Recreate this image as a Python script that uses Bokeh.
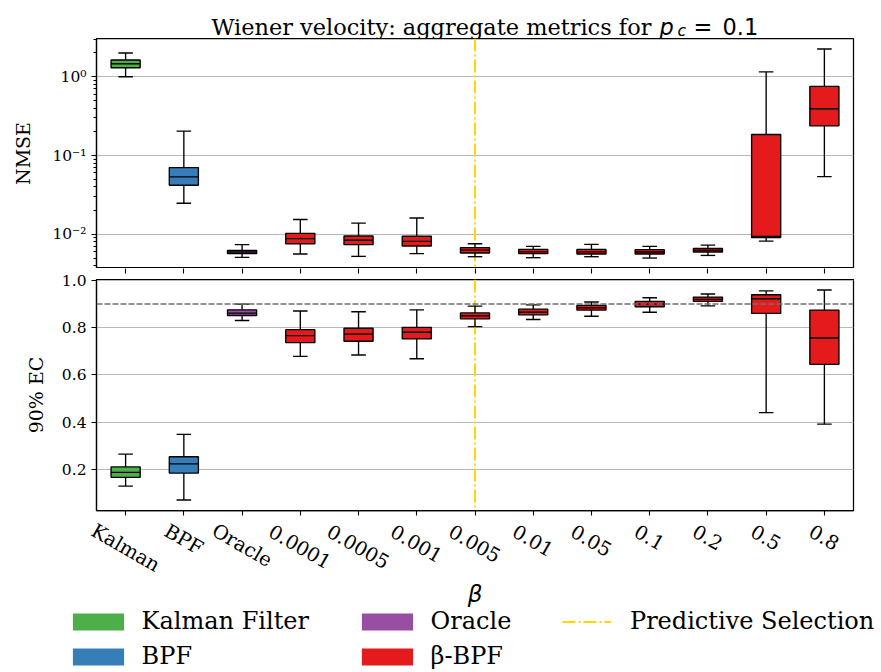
import math
from bokeh.plotting import figure
from bokeh.models import (Range1d, FixedTicker, CustomJSTickFormatter, PrintfTickFormatter,
                          Span, Legend, LegendItem, ColumnDataSource, Label, LinearAxis)
from bokeh.core.properties import value
from bokeh.layouts import column
from bokeh.embed import file_html
from bokeh.resources import INLINE

# ---------------- data ----------------
categories = ["Kalman", "BPF", "Oracle", "0.0001", "0.0005", "0.001", "0.005",
              "0.01", "0.05", "0.1", "0.2", "0.5", "0.8"]
groups = ["Kalman Filter", "BPF", "Oracle"] + ["β-BPF"] * 10
group_names = ["Kalman Filter", "BPF", "Oracle", "β-BPF"]
group_colors = ["#4daf4a", "#377eb8", "#984ea3", "#e41a1c"]
selected_beta = "0.005"
target_coverage = 0.9

# NMSE box statistics (whisker low, Q1, median, Q3, whisker high)
nmse_lo = [1.0, 0.0248, 0.0051, 0.00562, 0.00525, 0.00568, 0.0052, 0.00505, 0.0052, 0.0050, 0.0054, 0.0082, 0.054]
nmse_q1 = [1.30, 0.042, 0.00568, 0.0076, 0.0074, 0.0071, 0.0058, 0.00568, 0.00562, 0.00562, 0.00596, 0.0091, 0.238]
nmse_med = [1.46, 0.0536, 0.00596, 0.0088, 0.0084, 0.00815, 0.0063, 0.0060, 0.0060, 0.00596, 0.0063, 0.0094, 0.392]
nmse_q3 = [1.63, 0.0703, 0.00626, 0.0103, 0.00953, 0.00944, 0.00677, 0.00644, 0.00644, 0.0064, 0.00664, 0.185, 0.753]
nmse_hi = [2.0, 0.204, 0.0074, 0.0154, 0.0139, 0.0161, 0.0076, 0.00703, 0.00746, 0.00703, 0.0073, 1.15, 2.25]

# 90% empirical coverage box statistics
ec_lo = [0.129, 0.070, 0.830, 0.678, 0.684, 0.668, 0.804, 0.834, 0.848, 0.865, 0.892, 0.440, 0.391]
ec_q1 = [0.166, 0.184, 0.851, 0.736, 0.742, 0.752, 0.837, 0.854, 0.874, 0.888, 0.911, 0.860, 0.644]
ec_med = [0.187, 0.223, 0.861, 0.766, 0.772, 0.780, 0.850, 0.865, 0.884, 0.899, 0.919, 0.922, 0.756]
ec_q3 = [0.210, 0.253, 0.875, 0.791, 0.797, 0.801, 0.862, 0.878, 0.894, 0.911, 0.929, 0.939, 0.874]
ec_hi = [0.264, 0.348, 0.899, 0.870, 0.867, 0.875, 0.891, 0.896, 0.908, 0.926, 0.942, 0.955, 0.959]

ec_ticks = [0.2, 0.4, 0.6, 0.8, 1.0]
nmse_ticks = [0.01, 0.1, 1.0]

# ---------------- layout / style constants ----------------
SERIF = "DejaVu Serif"
SANS = "DejaVu Sans"
BOX_W = 0.5
CAP_W = 0.25
W = 881
LEFT, RIGHT = 96, 28
FRAME_W = W - LEFT - RIGHT
TITLE_H = 38
TOP_H = 230
BOT_H = 248
FOOT_H = 154
TICK_FS = 19.5
ROT = math.pi / 6
GOLD = "#FFD700"
GOLD_DASH = "13 3 2 3"

# approximate DejaVu Serif advance widths (em) used to align rotated labels
EM = {"0": .636, "1": .636, "2": .636, "5": .636, "8": .636, ".": .318, "K": .753, "a": .596,
      "l": .320, "m": .948, "n": .640, "B": .733, "P": .683, "F": .715, "O": .785,
      "r": .478, "c": .560, "e": .592}

n = len(categories)
xs = list(range(n))
colors = [group_colors[group_names.index(g)] for g in groups]
sel_x = categories.index(selected_beta)
x_range = Range1d(-0.5, n - 0.5)
blank = CustomJSTickFormatter(code="return ''")


def bare(p):
    p.background_fill_color = "white"
    p.border_fill_color = "white"
    p.outline_line_color = None
    p.xgrid.visible = False
    p.ygrid.visible = False


def style_axis(ax):
    ax.axis_line_color = "black"
    ax.axis_line_width = 1.25
    ax.major_tick_line_color = "black"
    ax.major_tick_line_width = 1.1
    ax.major_tick_out = 5
    ax.major_tick_in = 0
    ax.minor_tick_line_color = "black"
    ax.minor_tick_out = 3
    ax.minor_tick_in = 0
    ax.major_label_text_font = SERIF
    ax.major_label_text_font_size = "15.5px"
    ax.major_label_text_color = "black"
    ax.axis_label_text_font = SERIF
    ax.axis_label_text_font_style = "normal"
    ax.axis_label_text_font_size = "19px"
    ax.axis_label_text_color = "black"


def style(p):
    p.background_fill_color = "white"
    p.border_fill_color = "white"
    p.outline_line_color = "black"
    p.outline_line_width = 1.25
    p.outline_line_alpha = 1.0
    p.xgrid.visible = False
    p.ygrid.grid_line_color = "#b8b8b8"
    p.ygrid.grid_line_width = 1.2
    for ax in p.yaxis:
        style_axis(ax)
    for ax in p.xaxis:
        style_axis(ax)
        ax.ticker = FixedTicker(ticks=xs)
        ax.minor_tick_line_color = None
        ax.formatter = blank
        ax.major_label_standoff = 0
    p.add_layout(Span(location=sel_x, dimension="height", line_color=GOLD,
                      line_width=2, line_dash=GOLD_DASH, level="underlay"))


def draw_boxes(p, lo, q1, med, q3, hi):
    src = ColumnDataSource(dict(
        x=xs, lo=lo, q1=q1, med=med, q3=q3, hi=hi, color=colors,
        x0=[x - BOX_W / 2 for x in xs], x1=[x + BOX_W / 2 for x in xs],
        c0=[x - CAP_W / 2 for x in xs], c1=[x + CAP_W / 2 for x in xs],
    ))
    kw = dict(line_color="black", line_width=1.35, source=src)
    p.segment(x0="x", y0="q3", x1="x", y1="hi", **kw)
    p.segment(x0="x", y0="q1", x1="x", y1="lo", **kw)
    p.segment(x0="c0", y0="hi", x1="c1", y1="hi", **kw)
    p.segment(x0="c0", y0="lo", x1="c1", y1="lo", **kw)
    p.vbar(x="x", width=BOX_W, top="q3", bottom="q1", fill_color="color",
           line_color="black", line_width=1.35, source=src)
    p.segment(x0="x0", y0="med", x1="x1", y1="med", **kw)


# ---------------- title strip (full-width frame, x in page pixels) ----------------
ttl = figure(width=W, height=TITLE_H, output_backend="svg", toolbar_location=None,
             x_range=Range1d(0, W), y_range=Range1d(TITLE_H, 0),
             x_axis_location=None, y_axis_location=None, min_border=0)
bare(ttl)
base = 26
tfs = "22.45px"
ttl.text(x=[658], y=[base], text=["Wiener velocity: aggregate metrics for "],
         text_font=value(SERIF), text_font_size=tfs, text_align="right",
         text_baseline="alphabetic", text_color="black")
ttl.text(x=[659], y=[base], text=["p"], text_font=value(SANS), text_font_style="italic",
         text_font_size=tfs, text_align="left", text_baseline="alphabetic", text_color="black")
ttl.text(x=[677], y=[base + 4], text=["c"], text_font=value(SANS), text_font_style="italic",
         text_font_size="15.7px", text_align="left", text_baseline="alphabetic", text_color="black")
ttl.text(x=[693], y=[base], text=["="], text_font=value(SANS),
         text_font_size=tfs, text_align="left", text_baseline="alphabetic", text_color="black")
ttl.text(x=[722], y=[base], text=["0.1"], text_font=value(SANS),
         text_font_size=tfs, text_align="left", text_baseline="alphabetic", text_color="black")

# ---------------- top: NMSE ----------------
lmin = math.log10(min(nmse_lo))
lmax = math.log10(max(nmse_hi))
lm = 0.05 * (lmax - lmin)
top = figure(width=W, height=TOP_H, output_backend="svg", toolbar_location=None,
             y_axis_type="log", x_range=x_range, x_axis_location=None,
             y_range=Range1d(10 ** (lmin - lm), 10 ** (lmax + lm)),
             min_border_left=LEFT, min_border_right=RIGHT, min_border_top=0, min_border_bottom=0)
style(top)
minor = [k * 10.0 ** e for e in range(-4, 1) for k in range(2, 10)]
top.yaxis[0].ticker = FixedTicker(ticks=nmse_ticks, minor_ticks=minor)
top.yaxis[0].formatter = CustomJSTickFormatter(code="""
const e = Math.round(Math.log10(tick));
const sup = {'-': '\u207b', '0': '\u2070', '1': '\u00b9', '2': '\u00b2', '3': '\u00b3'};
return '10' + String(e).split('').map(c => sup[c]).join('');
""")
top.yaxis[0].axis_label = "NMSE"
top.yaxis[0].axis_label_standoff = 15
draw_boxes(top, nmse_lo, nmse_q1, nmse_med, nmse_q3, nmse_hi)

# ---------------- bottom: 90% EC ----------------
emin = min(ec_lo)
emax = max(ec_hi)
em = 0.05 * (emax - emin)
bot = figure(width=W, height=BOT_H, output_backend="svg", toolbar_location=None,
             x_range=x_range, y_range=Range1d(emin - em, emax + em),
             min_border_left=LEFT, min_border_right=RIGHT, min_border_top=11, min_border_bottom=6)
# tick marks hanging below the upper panel (drawn in the gap between panels)
bot.add_layout(LinearAxis(), "above")
style(bot)
bot.above[0].major_tick_out = 11
bot.above[0].major_tick_line_dash = "5 6"
bot.above[0].axis_line_color = None
bot.yaxis[0].ticker = FixedTicker(ticks=ec_ticks)
bot.yaxis[0].formatter = PrintfTickFormatter(format="%.1f")
bot.yaxis[0].minor_tick_line_color = None
bot.yaxis[0].axis_label = "90% EC"
bot.yaxis[0].axis_label_standoff = 12
bot.add_layout(Span(location=target_coverage, dimension="width", line_color="#707070",
                    line_width=1.5, line_dash="6 2"))
draw_boxes(bot, ec_lo, ec_q1, ec_med, ec_q3, ec_hi)

# ---------------- foot: tick labels, axis label, legend (full-width frame) ----------------
unit = FRAME_W / n
foot = figure(width=W, height=FOOT_H, output_backend="svg", toolbar_location=None,
              x_range=Range1d(-0.5 - LEFT / unit, n - 0.5 + RIGHT / unit),
              y_range=Range1d(FOOT_H, 0),
              x_axis_location=None, y_axis_location=None, min_border=0)
bare(foot)
label_top = 6.5
for i, c in enumerate(categories):
    L = sum(EM.get(ch, 0.6) for ch in c) * TICK_FS
    ly = label_top + (L * math.sin(ROT) + 0.73 * TICK_FS * math.cos(ROT)) / 2
    foot.add_layout(Label(x=xs[i], y=ly, text=c, angle=-ROT, text_align="center",
                          text_baseline="middle", text_font=SERIF,
                          text_font_size=f"{TICK_FS}px", text_color="black"))
foot.add_layout(Label(x=(n - 1) / 2, y=77, text="β", text_align="center", text_baseline="middle",
                      text_font=SANS, text_font_style="italic", text_font_size="23px",
                      text_color="black"))

nan = float("nan")
dummy = ColumnDataSource(dict(x=[nan], y=[nan]))
patch_items = []
for name, col in zip(group_names, group_colors):
    r = foot.rect(x="x", y="y", width=1, height=1, fill_color=col, line_color=None, source=dummy)
    patch_items.append(LegendItem(label=name, renderers=[r]))
rl = foot.line(x="x", y="y", line_color=GOLD, line_width=2, line_dash=GOLD_DASH, source=dummy)

lkw = dict(orientation="vertical", label_text_font=SERIF, label_text_font_size="24px",
           label_text_color="black",
           background_fill_alpha=0, border_line_color=None, margin=0, padding=0,
           label_height=28, spacing=7)
pkw = dict(glyph_width=64, glyph_height=21, label_standoff=12)
foot.add_layout(Legend(items=patch_items[0:2], location=(72 - 6.4, 0), **pkw, **lkw))
foot.add_layout(Legend(items=patch_items[2:4], location=(361 - 6.4, 0), **pkw, **lkw))
foot.add_layout(Legend(items=[LegendItem(label="Predictive Selection", renderers=[rl])],
                       location=(562, 35), glyph_width=49, glyph_height=21,
                       label_standoff=19, **lkw))

layout = column(ttl, column(top, bot, spacing=0), foot, spacing=0)
open("out.html", "w").write(file_html(layout, INLINE))
